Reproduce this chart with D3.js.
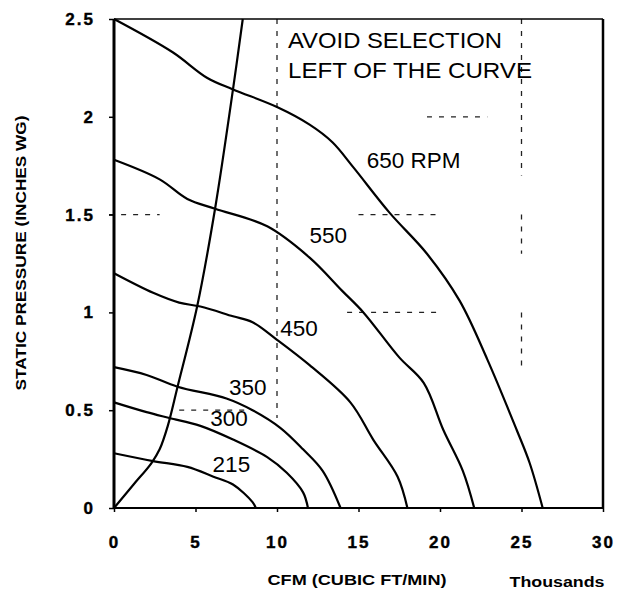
<!DOCTYPE html>
<html>
<head>
<meta charset="utf-8">
<script src="https://cdn.jsdelivr.net/npm/d3@7"></script>
<style>
  body { margin: 0; background: #fff; }
  text { font-family: "Liberation Sans", Arial, sans-serif; }
</style>
</head>
<body>
<div id="chart"></div>
<script>
// fan curves: cfm in thousands, static pressure in inches wg
const rpm650 = [[0, 2.5], [3.6, 2.33], [5.7, 2.2], [7.3, 2.14], [10, 2.05], [12, 1.96], [13.4, 1.87], [14.7, 1.74], [16.9, 1.51], [19.2, 1.3], [21.2, 1.06], [22.9, 0.76], [24.7, 0.4], [25.5, 0.23], [26.3, 0]];
const rpm550 = [[0, 1.78], [2.8, 1.68], [4.5, 1.58], [6.2, 1.53], [9.4, 1.44], [12, 1.28], [14, 1.11], [15.3, 1.0], [17.5, 0.77], [19, 0.64], [20.2, 0.4], [21.4, 0.19], [22.1, 0]];
const rpm450 = [[0, 1.2], [2.4, 1.1], [4, 1.05], [5.3, 1.03], [7.3, 0.98], [8.5, 0.95], [10, 0.86], [12, 0.73], [14.5, 0.54], [15.9, 0.35], [17.4, 0.16], [18, 0]];
const rpm350 = [[0, 0.72], [2, 0.68], [3.9, 0.62], [6.9, 0.56], [8.5, 0.5], [10.2, 0.41], [11.6, 0.3], [12.8, 0.19], [13.9, 0]];
const rpm300 = [[0, 0.54], [2, 0.49], [3.4, 0.46], [5.3, 0.42], [7.3, 0.35], [9.4, 0.26], [10.6, 0.18], [11.6, 0.08], [11.9, 0]];
const rpm215 = [[0, 0.28], [2.4, 0.24], [4.5, 0.21], [6.1, 0.16], [7.3, 0.12], [8.5, 0.03], [8.7, 0]];
// "avoid selection" boundary
const limitCurve = [[0, 0], [1.2, 0.12], [2.3, 0.23], [2.8, 0.3], [3.3, 0.42], [3.9, 0.62], [5.1, 1.03], [6.2, 1.53], [7.3, 2.14], [7.9, 2.5]];

const xTicks = [0, 5, 10, 15, 20, 25, 30];
const yTicks = [0, 0.5, 1, 1.5, 2, 2.5];
const yTickLabels = ["0", "0.5", "1", "1.5", "2", "2.5"];

// curve labels: text, cfm, pressure (anchor at text start / baseline)
const curveLabels = [
  ["650 RPM", 15.5, 1.74],
  ["550", 12.0, 1.355],
  ["450", 10.2, 0.88],
  ["350", 7.05, 0.58],
  ["300", 5.9, 0.42],
  ["215", 6.05, 0.185]
];

// broken dashed grid pieces from the scan: [x1, y1, x2, y2]
const gridPieces = [
  [10, 2.5, 10, 0.46],
  [25, 2.5, 25, 1.7],
  [25, 1.5, 25, 1.3],
  [25, 1.0, 25, 0.72],
  [19.2, 2, 22.9, 2],
  [-0.3, 1.5, 2.8, 1.5],
  [15.0, 1.5, 20.1, 1.5],
  [14.3, 1, 20.0, 1],
  [4.0, 0.5, 8.5, 0.5]
];

const W = 618, H = 593;
const svg = d3.select("#chart").append("svg").attr("width", W).attr("height", H);

const x = d3.scaleLinear().domain([0, 30]).range([114, 603]);
const y = d3.scaleLinear().domain([0, 2.5]).range([508, 19]);

// grid
svg.selectAll(".grid")
  .data(gridPieces)
  .enter()
  .append("line")
  .attr("x1", (d) => x(d[0]))
  .attr("y1", (d) => y(d[1]))
  .attr("x2", (d) => x(d[2]))
  .attr("y2", (d) => y(d[3]))
  .attr("stroke", "#222")
  .attr("stroke-width", 1.3)
  .attr("stroke-dasharray", "5,7");

// frame
svg.append("line").attr("x1", x(0)).attr("x2", x(30)).attr("y1", y(2.5)).attr("y2", y(2.5))
  .attr("stroke", "#000").attr("stroke-width", 1.5);
svg.append("line").attr("x1", x(30)).attr("x2", x(30)).attr("y1", y(2.5)).attr("y2", y(0))
  .attr("stroke", "#000").attr("stroke-width", 2.5);
svg.append("line").attr("x1", x(0)).attr("x2", x(30)).attr("y1", y(0)).attr("y2", y(0))
  .attr("stroke", "#000").attr("stroke-width", 2);
svg.append("line").attr("x1", x(0)).attr("x2", x(0)).attr("y1", y(2.5)).attr("y2", y(0))
  .attr("stroke", "#000").attr("stroke-width", 3);

// axes
const xAxis = svg.append("g")
  .attr("transform", `translate(0,${y(0)})`)
  .call(d3.axisBottom(x).tickValues(xTicks).tickSize(4).tickPadding(24));
const yAxis = svg.append("g")
  .attr("transform", `translate(${x(0)},0)`)
  .call(d3.axisLeft(y).tickValues(yTicks).tickSize(5).tickPadding(14)
    .tickFormat((d, i) => yTickLabels[i]));

[xAxis, yAxis].forEach((g) => {
  g.select(".domain").remove();
  g.selectAll(".tick line").attr("stroke", "#000").attr("stroke-width", 1.5);
  g.selectAll(".tick text")
    .attr("fill", "#000")
    .attr("stroke", "#000")
    .attr("stroke-width", 0.4)
    .style("font-family", "'Liberation Sans', Arial, sans-serif")
    .style("font-size", "17px")
    .style("font-weight", "bold")
    .style("letter-spacing", "2px");
});

// curves
const line = d3.line()
  .x((d) => x(d[0]))
  .y((d) => y(d[1]))
  .curve(d3.curveCatmullRom.alpha(0.5));

const allCurves = [rpm650, rpm550, rpm450, rpm350, rpm300, rpm215, limitCurve];
svg.selectAll(".fan")
  .data(allCurves)
  .enter()
  .append("path")
  .attr("class", "fan")
  .attr("fill", "none")
  .attr("stroke", "#000")
  .attr("stroke-width", 2.2)
  .attr("d", line);

// curve labels
svg.selectAll(".clabel")
  .data(curveLabels)
  .enter()
  .append("text")
  .attr("x", (d) => x(d[1]))
  .attr("y", (d) => y(d[2]))
  .attr("font-size", "22.5px")
  .attr("fill", "#000")
  .text((d) => d[0]);

// note
svg.append("text").attr("x", 288).attr("y", 48).attr("font-size", "22.5px")
  .attr("textLength", 214).attr("lengthAdjust", "spacingAndGlyphs")
  .text("AVOID SELECTION");
svg.append("text").attr("x", 288).attr("y", 78).attr("font-size", "22.5px")
  .attr("textLength", 244).attr("lengthAdjust", "spacingAndGlyphs")
  .text("LEFT OF THE CURVE");

// axis titles
svg.append("text")
  .attr("x", 357).attr("y", 585)
  .attr("text-anchor", "middle")
  .attr("font-size", "14px").attr("font-weight", "bold")
  .attr("textLength", 179).attr("lengthAdjust", "spacingAndGlyphs")
  .text("CFM (CUBIC FT/MIN)");
svg.append("text")
  .attr("x", 557).attr("y", 587)
  .attr("text-anchor", "middle")
  .attr("font-size", "14px").attr("font-weight", "bold")
  .attr("textLength", 95).attr("lengthAdjust", "spacingAndGlyphs")
  .text("Thousands");
svg.append("text")
  .attr("transform", "translate(26,253) rotate(-90)")
  .attr("text-anchor", "middle")
  .attr("font-size", "14px").attr("font-weight", "bold")
  .attr("textLength", 275).attr("lengthAdjust", "spacingAndGlyphs")
  .text("STATIC PRESSURE (INCHES WG)");
</script>
</body>
</html>
